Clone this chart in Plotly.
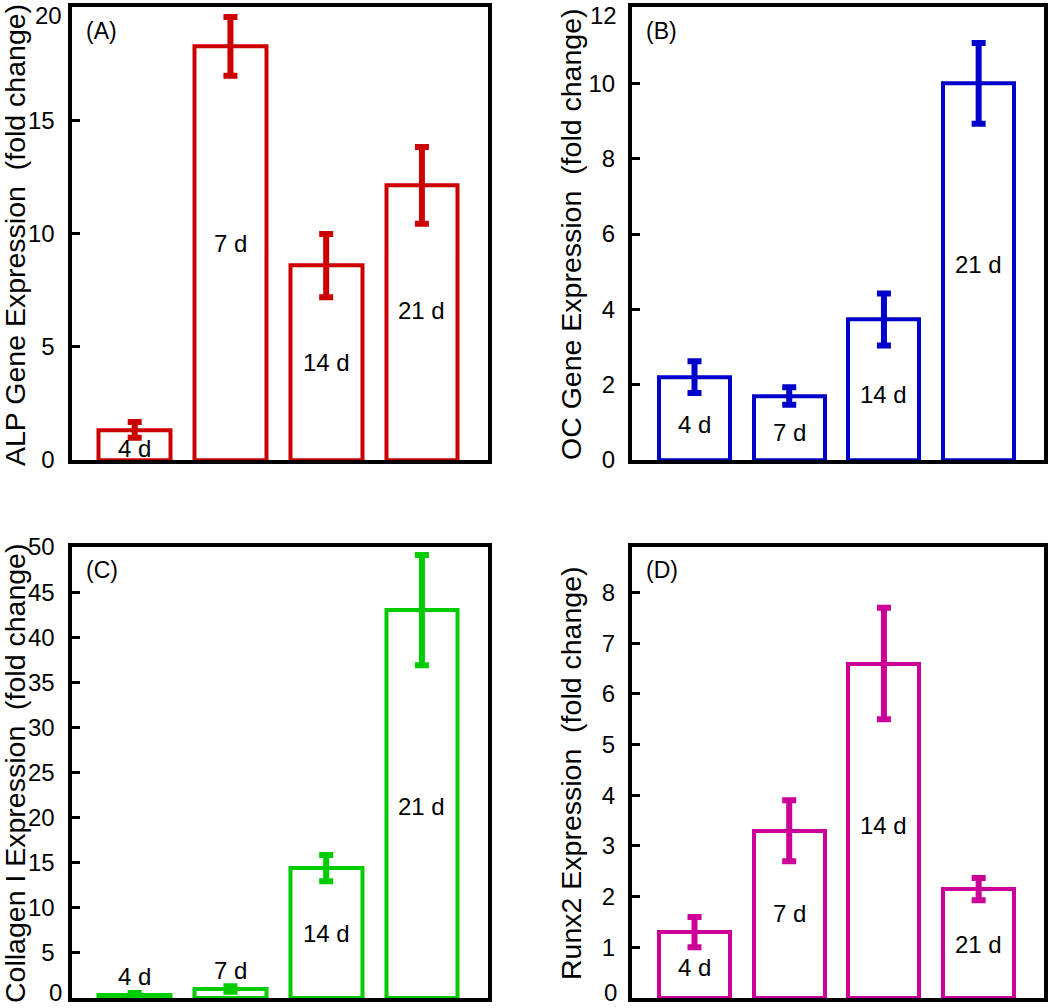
import plotly.graph_objects as go

_FONT = "Arial, Liberation Sans, sans-serif"
_RED = "#cc0000"
_BLUE = "#0000cc"
_GREEN = "#00cc00"
_MAGENTA = "#cc0099"

days = ["4 d", "7 d", "14 d", "21 d"]
x_pos = [1, 2, 3, 4]

alp_mean = [1.33, 18.3, 8.6, 12.15]
alp_err = [0.35, 1.3, 1.4, 1.7]
alp_label_y = [0.5, 9.6, 4.3, 6.6]
alp_ticks = [0, 5, 10, 15, 20]

oc_mean = [2.2, 1.7, 3.73, 10.0]
oc_err = [0.42, 0.23, 0.69, 1.07]
oc_label_y = [0.93, 0.72, 1.75, 5.2]
oc_ticks = [0, 2, 4, 6, 8, 10, 12]

col_mean = [0.35, 1.0, 14.4, 43.0]
col_err = [0.2, 0.3, 1.45, 6.1]
col_label_y = [2.4, 3.1, 7.1, 21.2]
col_ticks = [0, 5, 10, 15, 20, 25, 30, 35, 40, 45, 50]

runx_mean = [1.3, 3.3, 6.6, 2.15]
runx_err = [0.3, 0.6, 1.1, 0.22]
runx_label_y = [0.6, 1.67, 3.41, 1.06]
runx_ticks = [0, 1, 2, 3, 4, 5, 6, 7, 8]

_GAP = "\u00a0\u00a0"

# (means, errors, label y, ticks, colour, panel tag, y title, y range)
panels = [
    (alp_mean, alp_err, alp_label_y, alp_ticks, _RED, "(A)",
     "ALP Gene Expression" + _GAP + "(fold change)", [0, 20.03]),
    (oc_mean, oc_err, oc_label_y, oc_ticks, _BLUE, "(B)",
     "OC Gene Expression" + _GAP + "(fold change)", [0, 12.02]),
    (col_mean, col_err, col_label_y, col_ticks, _GREEN, "(C)",
     "Collagen I Expression" + _GAP + "(fold change)", [0, 50]),
    (runx_mean, runx_err, runx_label_y, runx_ticks, _MAGENTA, "(D)",
     "Runx2 Expression" + _GAP + "(fold change)", [0, 8.9]),
]

W, H = 1050, 1008
x_doms = [[71.5 / W, 488 / W], [632 / W, 1044 / W]]
y_doms = [[1 - 460 / H, 1 - 7.3 / H], [1 - 998 / H, 1 - 547 / H]]
title_x = [15 / W, 571 / W]
title_y = [1 - 235 / H, 1 - 774 / H]
edge_label_x = [64 / W, 619 / W]

fig = go.Figure()
layout = {}
annotations = []
tick_font = dict(size=24, color="black", family=_FONT)

for i, (mean, err, lab_y, ticks, color, tag, ytitle, yrange) in enumerate(panels):
    row, col = divmod(i, 2)
    n = "" if i == 0 else str(i + 1)
    xa, ya = "x" + n, "y" + n

    fig.add_trace(go.Bar(
        x=x_pos,
        y=mean,
        width=0.75,
        marker=dict(color="white", line=dict(color=color, width=4)),
        error_y=dict(type="data", array=err, color=color, thickness=6, width=7),
        xaxis=xa,
        yaxis=ya,
        showlegend=False,
    ))

    # labels sitting on the page edge are placed as annotations so they stay inside
    ticktext = [str(v) for v in ticks]
    edge = -1 if row == 0 else 0
    edge_text = ticktext[edge]
    ticktext[edge] = ""
    annotations.append(dict(
        x=edge_label_x[col], y=1 if row == 0 else 0, xref="paper", yref="paper",
        text=edge_text, showarrow=False, xanchor="right",
        yanchor="top" if row == 0 else "bottom", font=tick_font,
    ))

    layout["xaxis" + n] = dict(
        domain=x_doms[col], anchor=ya, range=[0.34, 4.69], automargin=False,
        showline=True, mirror=True, linecolor="black", linewidth=4,
        showticklabels=False, ticks="", showgrid=False, zeroline=False,
    )
    layout["yaxis" + n] = dict(
        domain=y_doms[row], anchor=xa, range=yrange,
        tickvals=ticks, ticktext=ticktext,
        automargin=False, ticklabeloverflow="allow",
        showline=True, mirror=True, linecolor="black", linewidth=4,
        ticks="inside", ticklen=8, tickwidth=3, tickcolor="black",
        ticklabelstandoff=8, tickfont=tick_font,
        showgrid=False, zeroline=False,
    )

    for xv, yv, txt in zip(x_pos, lab_y, days):
        annotations.append(dict(
            x=xv, y=yv, xref=xa, yref=ya, text=txt, showarrow=False,
            font=dict(size=24, color="black", family=_FONT),
        ))

    annotations.append(dict(
        x=0.03, y=0.948, xref=xa + " domain", yref=ya + " domain",
        text=tag, showarrow=False, xanchor="left", yanchor="middle",
        font=dict(size=23, color="black", family=_FONT),
    ))
    annotations.append(dict(
        x=title_x[col], y=title_y[row], xref="paper", yref="paper",
        text=ytitle, textangle=-90, showarrow=False,
        xanchor="center", yanchor="middle",
        font=dict(size=28.5, color="black", family=_FONT),
    ))

fig.update_layout(
    **layout,
    annotations=annotations,
    width=W,
    height=H,
    margin=dict(l=0, r=0, t=0, b=0, autoexpand=False),
    paper_bgcolor="white",
    plot_bgcolor="white",
    bargap=0,
)

# the page body has a default 8px margin; drop it so the figure sits at (0, 0)
fig.write_html(
    "out.html",
    config={"displayModeBar": False},
    post_script="document.body.style.margin = '0';",
)
